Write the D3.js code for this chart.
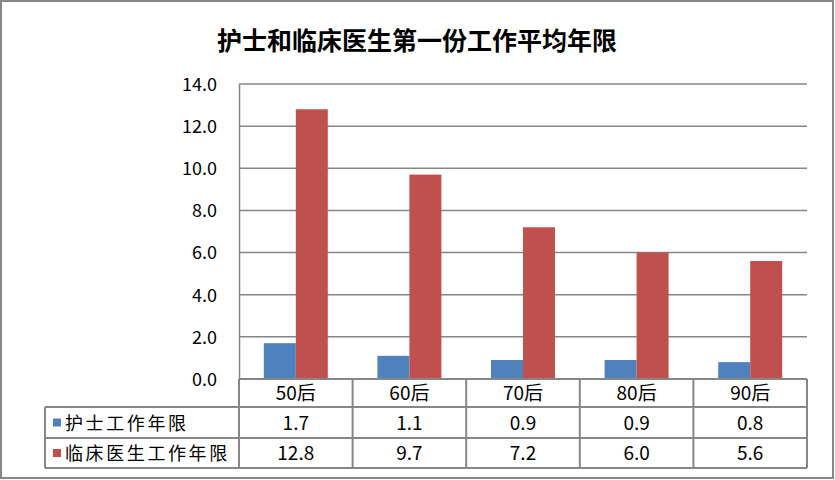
<!DOCTYPE html>
<html><head><meta charset="utf-8">
<script src="https://cdn.jsdelivr.net/npm/d3@7"></script>
<style>body{margin:0;background:#fff}svg{display:block}</style>
</head><body>
<svg id="c" width="835" height="480"></svg>
<script>
const title = "护士和临床医生第一份工作平均年限";
const categories = ["50后","60后","70后","80后","90后"];
const seriesNames = ["护士工作年限","临床医生工作年限"];
const nurseValues = [1.7,1.1,0.9,0.9,0.8];
const doctorValues = [12.8,9.7,7.2,6.0,5.6];
const yTicks = [0,2,4,6,8,10,12,14];
const colors = ["#4F81BD","#C0504D"];

(function(){
const series = [nurseValues, doctorValues];
const svg = d3.select("#c");
const font = "'Noto Sans CJK SC', 'Liberation Sans', sans-serif";
const pLeft = 239, pRight = 807, pTop = 84, pBottom = 379;
const tableLeft = 45;
const rowBounds = [379, 407, 438, 468];

svg.append("rect").attr("x",1).attr("y",1).attr("width",832).attr("height",477)
  .attr("fill","#fff").attr("stroke","#868686").attr("stroke-width",2);

svg.append("text").attr("x",417).attr("y",50).attr("text-anchor","middle")
  .attr("font-family",font).attr("font-weight","bold").attr("font-size",25)
  .attr("fill","#000").text(title);

const x = d3.scaleBand().domain(categories).range([pLeft,pRight]).paddingInner(0).paddingOuter(0);
const y = d3.scaleLinear().domain([0,14]).range([pBottom,pTop]);

svg.append("g").selectAll("line").data(yTicks).join("line")
  .attr("x1",pLeft).attr("x2",pRight).attr("y1",d=>y(d)).attr("y2",d=>y(d))
  .attr("stroke","#868686").attr("stroke-width",1.5);

const yAxis = d3.axisLeft(y).tickValues(yTicks).tickFormat(d3.format(".1f")).tickSize(0).tickPadding(22);
const yg = svg.append("g").attr("transform",`translate(${pLeft},0)`).call(yAxis);
yg.select(".domain").attr("stroke","#868686").attr("stroke-width",1.5);
yg.selectAll("text").attr("font-family",font).attr("font-size",18).attr("fill","#000").attr("dy","0.35em");

const barW = 32;
const x1 = d3.scaleBand().domain([0,1]).range([0,barW*2]);
series.forEach((vals,si)=>{
  svg.append("g").selectAll("rect").data(vals).join("rect")
    .attr("x",(d,i)=>x(categories[i]) + x.bandwidth()/2 - barW + x1(si))
    .attr("width",x1.bandwidth())
    .attr("y",d=>y(d)).attr("height",d=>y(0)-y(d))
    .attr("fill",colors[si]);
});

const tg = svg.append("g");
const stroke = "#868686";
tg.append("line").attr("x1",pLeft).attr("x2",pRight).attr("y1",rowBounds[0]).attr("y2",rowBounds[0]).attr("stroke",stroke).attr("stroke-width",2);
[1,2,3].forEach(r=>{
  tg.append("line").attr("x1",tableLeft).attr("x2",pRight).attr("y1",rowBounds[r]).attr("y2",rowBounds[r]).attr("stroke",stroke).attr("stroke-width",2);
});
tg.append("line").attr("x1",tableLeft).attr("x2",tableLeft).attr("y1",rowBounds[1]).attr("y2",rowBounds[3]).attr("stroke",stroke).attr("stroke-width",2);
const colEdges = categories.map(c=>x(c)).concat([pRight]);
colEdges.forEach((cx,i)=>{
  tg.append("line").attr("x1",cx).attr("x2",cx).attr("y1",i===0?pBottom:rowBounds[0]).attr("y2",rowBounds[3]).attr("stroke",stroke).attr("stroke-width",2);
});
tg.selectAll("text.cat").data(categories).join("text").attr("class","cat")
  .attr("x",d=>x(d)+x.bandwidth()/2).attr("y",(rowBounds[0]+rowBounds[1])/2+7)
  .attr("text-anchor","middle").attr("font-family",font).attr("font-size",19).attr("fill","#000").text(d=>d);
series.forEach((vals,si)=>{
  const cy = (rowBounds[si+1]+rowBounds[si+2])/2;
  tg.append("rect").attr("x",53).attr("y",cy-4).attr("width",8).attr("height",8).attr("fill",colors[si]);
  tg.append("text").attr("x",65).attr("y",cy+7).attr("font-family",font).attr("font-size",18)
    .attr("letter-spacing",2.6).attr("fill","#000").text(seriesNames[si]);
  tg.selectAll(null).data(vals).join("text")
    .attr("x",(d,i)=>x(categories[i])+x.bandwidth()/2).attr("y",cy+7)
    .attr("text-anchor","middle").attr("font-family",font).attr("font-size",19).attr("fill","#000")
    .text(d=>d3.format(".1f")(d));
});
})();
</script>
</body></html>
